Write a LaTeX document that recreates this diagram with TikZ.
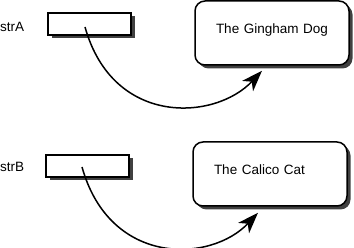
\documentclass[tikz,border=0pt]{standalone}
\usepackage{fontspec}
\setmainfont{Liberation Sans}
\usetikzlibrary{positioning, arrows.meta, shadows}

\begin{document}
\begin{tikzpicture}[x=1pt, y=-1pt,
    varlabel/.style={anchor=west, inner sep=0pt, font=\fontsize{13.5}{16}\selectfont},
    ptrbox/.style={draw, fill=white, line width=1.2pt, minimum width=83pt, minimum height=22pt,
      drop shadow={shadow xshift=3.5pt, shadow yshift=-3.5pt, fill=black!75, opacity=1}},
    strbox/.style={draw, fill=white, line width=1.5pt, rounded corners=10pt,
      minimum height=64pt, text width=112pt, inner xsep=21pt, align=left, text depth=8pt,
      font=\fontsize{13.5}{16}\selectfont,
      drop shadow={shadow xshift=3.5pt, shadow yshift=-3.5pt, fill=black!75, opacity=1}},
    ptrline/.style={line width=1.5pt, -{Stealth[length=21pt, width=15pt, inset=6pt]}}]
  \useasboundingbox (0,0) rectangle (354,248);
          % first string
          \node[varlabel] (strA) at (0,27) {strA};
          \node[ptrbox] (boxA) at (89.5,24) {};
          \node[strbox] (dog) at (272,33) {The Gingham Dog};
          \draw[ptrline] ([xshift=-4.5pt, yshift=-3pt]boxA.center)
            .. controls +(28,100) and +(-47,50) .. ([xshift=-10pt, yshift=-5pt]dog.south);
          % second string
          \node[varlabel] (strB) at (0,167) {strB};
          \node[ptrbox] (boxB) at (87.5,166) {};
          \node[strbox] (cat) at (270,174) {The Calico Cat};
          \draw[ptrline] ([xshift=-5.5pt, yshift=-1pt]boxB.center)
            .. controls +(28,100) and +(-47,50) .. ([xshift=-12pt, yshift=-6pt]cat.south);
        \end{tikzpicture}
\end{document}
